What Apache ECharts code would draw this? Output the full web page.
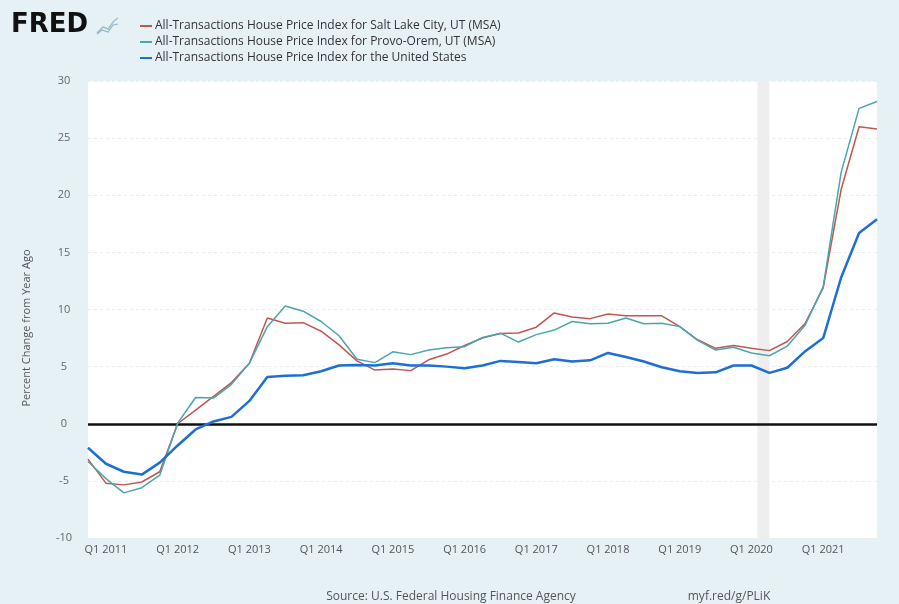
<!DOCTYPE html>
<html>
<head>
<meta charset="utf-8">
<script src="https://cdn.jsdelivr.net/npm/echarts@6/dist/echarts.min.js"></script>
<style>
  html, body { margin: 0; padding: 0; background: #e6f1f6; }
  #chart { width: 899px; height: 604px; }
</style>
</head>
<body>
<div id="chart"></div>
<script>
// quarters, Q4 2010 .. Q4 2021
const quarters = [
  'Q4 2010',
  'Q1 2011', 'Q2 2011', 'Q3 2011', 'Q4 2011',
  'Q1 2012', 'Q2 2012', 'Q3 2012', 'Q4 2012',
  'Q1 2013', 'Q2 2013', 'Q3 2013', 'Q4 2013',
  'Q1 2014', 'Q2 2014', 'Q3 2014', 'Q4 2014',
  'Q1 2015', 'Q2 2015', 'Q3 2015', 'Q4 2015',
  'Q1 2016', 'Q2 2016', 'Q3 2016', 'Q4 2016',
  'Q1 2017', 'Q2 2017', 'Q3 2017', 'Q4 2017',
  'Q1 2018', 'Q2 2018', 'Q3 2018', 'Q4 2018',
  'Q1 2019', 'Q2 2019', 'Q3 2019', 'Q4 2019',
  'Q1 2020', 'Q2 2020', 'Q3 2020', 'Q4 2020',
  'Q1 2021', 'Q2 2021', 'Q3 2021', 'Q4 2021'
]

const saltLake = [
  -3.1, -5.2, -5.35, -5.1, -4.2, 0.0, 1.2, 2.4, 3.6, 5.3,
  9.25, 8.8, 8.85, 8.1, 6.9, 5.5, 4.7, 4.8, 4.65, 5.6,
  6.1, 6.85, 7.5, 7.9, 7.95, 8.45, 9.7, 9.35, 9.2, 9.6,
  9.45, 9.45, 9.45, 8.5, 7.35, 6.6, 6.85, 6.6, 6.4, 7.2,
  8.8, 11.9, 20.5, 26.0, 25.8
]

const provo = [
  -3.3, -4.8, -6.05, -5.6, -4.5, 0.05, 2.3, 2.25, 3.45, 5.3,
  8.5, 10.3, 9.85, 8.95, 7.7, 5.65, 5.35, 6.3, 6.05, 6.45,
  6.65, 6.75, 7.55, 7.93, 7.15, 7.8, 8.2, 8.95, 8.75, 8.8,
  9.25, 8.75, 8.8, 8.5, 7.3, 6.45, 6.7, 6.2, 5.95, 6.8,
  8.65, 12.0, 22.0, 27.6, 28.2
]

const us = [
  -2.1, -3.5, -4.2, -4.45, -3.4, -1.9, -0.5, 0.2, 0.6, 2.0,
  4.1, 4.2, 4.25, 4.6, 5.1, 5.15, 5.1, 5.3, 5.1, 5.1,
  5.0, 4.85, 5.1, 5.5, 5.4, 5.3, 5.65, 5.45, 5.55, 6.2,
  5.85, 5.45, 4.95, 4.6, 4.45, 4.5, 5.1, 5.1, 4.45, 4.9,
  6.35, 7.5, 12.8, 16.7, 17.9
]

const seriesNames = [
  'All-Transactions House Price Index for Salt Lake City, UT (MSA)',
  'All-Transactions House Price Index for Provo-Orem, UT (MSA)',
  'All-Transactions House Price Index for the United States'
]

// recession (year, month) start / end
const recession = [[2020, 2], [2020, 4]]

const yTicks = [-10, -5, 0, 5, 10, 15, 20, 25, 30]

// position of a month on the quarter index (Q4 2010 = 0)
function monthPos(y, m) {
  return (y - 2010) * 4 + (m - 1) / 3 - 3
}

const font = '"Open Sans", "DejaVu Sans", sans-serif'
const chart = echarts.init(document.getElementById('chart'), null, {renderer: 'canvas'})

const lineSeries = (name, data, color, width) => ({
  name: name,
  type: 'line',
  data: data,
  showSymbol: false,
  symbol: 'none',
  lineStyle: {color: color, width: width},
  itemStyle: {color: color},
  z: 3
})

const option = {
  backgroundColor: '#e6f1f6',
  animation: false,
  textStyle: {fontFamily: font},
  grid: {
    left: 88,
    right: 22,
    top: 81,
    bottom: 66,
    show: true,
    backgroundColor: '#ffffff',
    borderWidth: 0
  },
  legend: {
    orient: 'vertical',
    left: 135,
    top: 14,
    itemGap: 2,
    itemWidth: 12,
    itemHeight: 2,
    icon: 'rect',
    data: seriesNames,
    textStyle: {fontFamily: font, fontSize: 12, color: '#333', lineHeight: 14, padding: [0, 0, 0, -2]}
  },
  xAxis: [
    {
      type: 'category',
      data: quarters,
      boundaryGap: false,
      axisLine: {show: false},
      axisTick: {show: false},
      splitLine: {show: false},
      axisLabel: {
        interval: function (i, v) { return v.indexOf('Q1') === 0 },
        color: '#555',
        fontSize: 11,
        fontFamily: font,
        margin: 6
      }
    },
    {
      type: 'value',
      min: 0,
      max: quarters.length - 1,
      show: false
    }
  ],
  yAxis: {
    type: 'value',
    min: yTicks[0],
    max: yTicks[yTicks.length - 1],
    interval: 5,
    axisLine: {show: false},
    axisTick: {show: false},
    axisLabel: {color: '#666', fontSize: 11, fontFamily: font, align: 'center', margin: 24},
    splitLine: {lineStyle: {color: '#ebebeb', type: [3, 3], width: 1}}
  },
  graphic: [
    {
      type: 'text',
      left: 11,
      top: 12,
      style: {text: 'FRED', font: 'bold 26px "DejaVu Sans", sans-serif', fill: '#111'}
    },
    {
      type: 'polyline',
      shape: {points: [[97, 33], [103, 27], [108, 29], [114, 21], [118, 18]]},
      style: {stroke: '#9cc7b8', lineWidth: 1.5, fill: null}
    },
    {
      type: 'polyline',
      shape: {points: [[97, 34], [102, 30], [108, 32], [113, 25], [118, 24]]},
      style: {stroke: '#8fb5d6', lineWidth: 1.2, fill: null}
    },
    {
      type: 'text',
      x: 27,
      y: 328,
      rotation: Math.PI / 2,
      style: {
        text: 'Percent Change from Year Ago',
        font: '11px ' + font,
        fill: '#555',
        align: 'center',
        verticalAlign: 'middle'
      }
    },
    {
      type: 'text',
      x: 451,
      y: 597,
      style: {
        text: 'Source: U.S. Federal Housing Finance Agency',
        font: '12px ' + font,
        fill: '#555',
        align: 'center',
        verticalAlign: 'middle'
      }
    },
    {
      type: 'text',
      x: 729,
      y: 597,
      style: {
        text: 'myf.red/g/PLiK',
        font: '12px ' + font,
        fill: '#555',
        align: 'center',
        verticalAlign: 'middle'
      }
    }
  ],
  series: [
    {
      name: 'recession',
      type: 'line',
      xAxisIndex: 1,
      data: [],
      silent: true,
      z: 1,
      markArea: {
        silent: true,
        itemStyle: {color: '#eeeeee'},
        data: [[
          {xAxis: monthPos(recession[0][0], recession[0][1])},
          {xAxis: monthPos(recession[1][0], recession[1][1])}
        ]]
      }
    },
    Object.assign(lineSeries(seriesNames[0], saltLake, '#c0574f', 1.5), {
      markLine: {
        silent: true,
        symbol: 'none',
        label: {show: false},
        lineStyle: {color: '#111', width: 2.5, type: 'solid'},
        data: [{yAxis: 0}],
        z: 2
      }
    }),
    lineSeries(seriesNames[1], provo, '#4aa6ad', 1.5),
    lineSeries(seriesNames[2], us, '#1d6fd6', 2.5)
  ]
}

chart.setOption(option)
</script>
</body>
</html>
